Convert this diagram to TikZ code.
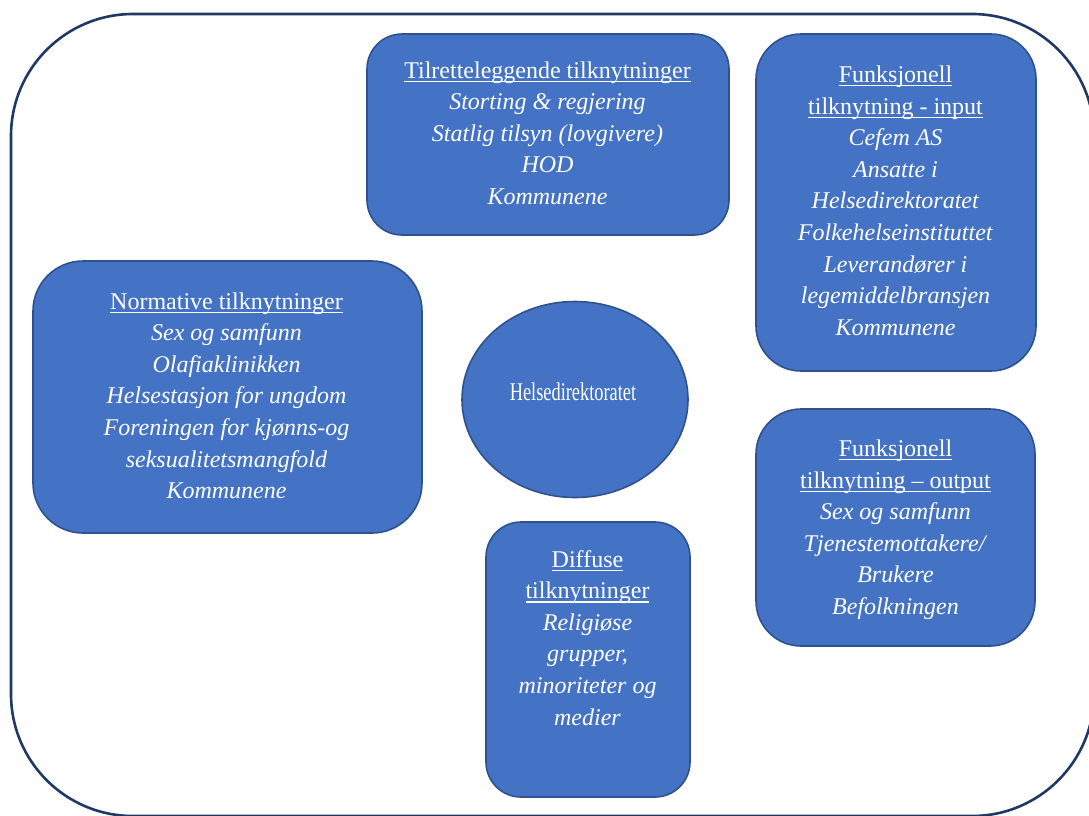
\documentclass[tikz,border=0pt]{standalone}
\usepackage{fontspec}
\usepackage{graphicx}
\setmainfont{Liberation Serif}
\usetikzlibrary{shapes.geometric}
\definecolor{frame}{HTML}{1F3864}
\definecolor{boxfill}{HTML}{4472C4}
\definecolor{boxedge}{HTML}{2F528F}
\newsavebox\ulinebox
\newcommand{\ulin}[1]{\leavevmode\sbox\ulinebox{#1}\rlap{\rule[-3.9pt]{\wd\ulinebox}{1.4pt}}\usebox\ulinebox}
\tikzset{
  bluebox/.style={draw=boxedge, fill=boxfill, line width=1.6pt, inner sep=0pt},
  boxtext/.style={text=white, inner sep=0pt, anchor=base, font=\fontsize{24}{31.6}\selectfont},
}
\newcommand{\bxt}[2]{\parbox[t]{#1pt}{\centering #2}}
\begin{document}
\begin{tikzpicture}[x=1pt,y=-1pt]
\useasboundingbox (0,0) rectangle (1089,815);
\begin{scope}
\clip (0,0) rectangle (1089,815);
\draw[frame, line width=2.6pt, rounded corners=122pt] (11,14) rectangle (1094,816);
\end{scope}

% boxes
\node[bluebox, rounded corners=35pt, minimum width=362pt, minimum height=201pt] (tilbox) at (548,134.5) {};
\node[bluebox, rounded corners=50pt, minimum width=389pt, minimum height=272pt] (normbox) at (227.5,397) {};
\node[bluebox, rounded corners=45pt, minimum width=280pt, minimum height=337pt] (inbox) at (896,202.5) {};
\node[bluebox, rounded corners=45pt, minimum width=279pt, minimum height=237pt] (outbox) at (895.5,527.5) {};
\node[bluebox, rounded corners=35pt, minimum width=204pt, minimum height=275pt] (difbox) at (588,659.5) {};
\node[bluebox, ellipse, minimum width=226pt, minimum height=196pt] (hdir) at (575,399.5) {};

% texts
\node[boxtext] (tiltext) at (547.5,78) {\bxt{360}{\ulin{Tilretteleggende tilknytninger}\\
\textit{Storting \& regjering}\\ \textit{Statlig tilsyn (lovgivere)}\\ \textit{HOD}\\ \textit{Kommunene}}};

\node[boxtext] (normtext) at (226.5,309) {\bxt{385}{\ulin{Normative tilknytninger}\\
\textit{Sex og samfunn}\\ \textit{Olafiaklinikken}\\ \textit{Helsestasjon for ungdom}\\
\textit{Foreningen for kjønns-og}\\ \textit{seksualitetsmangfold}\\ \textit{Kommunene}}};

\node[boxtext] (intext) at (895.5,82.5) {\bxt{276}{\ulin{Funksjonell}\\ \ulin{tilknytning - input}\\
\textit{Cefem AS}\\ \textit{Ansatte i}\\ \textit{Helsedirektoratet}\\ \textit{Folkehelseinstituttet}\\
\textit{Leverandører i}\\ \textit{legemiddelbransjen}\\ \textit{Kommunene}}};

\node[boxtext] (outtext) at (895.5,456.5) {\bxt{276}{\ulin{Funksjonell}\\ \ulin{tilknytning – output}\\
\textit{Sex og samfunn}\\ \textit{Tjenestemottakere/}\\ \textit{Brukere}\\ \textit{Befolkningen}}};

\node[boxtext] (diftext) at (587.5,567) {\bxt{200}{\ulin{Diffuse}\\ \ulin{tilknytninger}\\
\textit{Religiøse}\\ \textit{grupper,}\\ \textit{minoriteter og}\\ \textit{medier}}};

\node[text=white, inner sep=0pt, anchor=base] (hdirtext) at (573,400)
  {\scalebox{0.72}[1]{\fontsize{25.5}{30}\selectfont Helsedirektoratet}};
\end{tikzpicture}
\end{document}
